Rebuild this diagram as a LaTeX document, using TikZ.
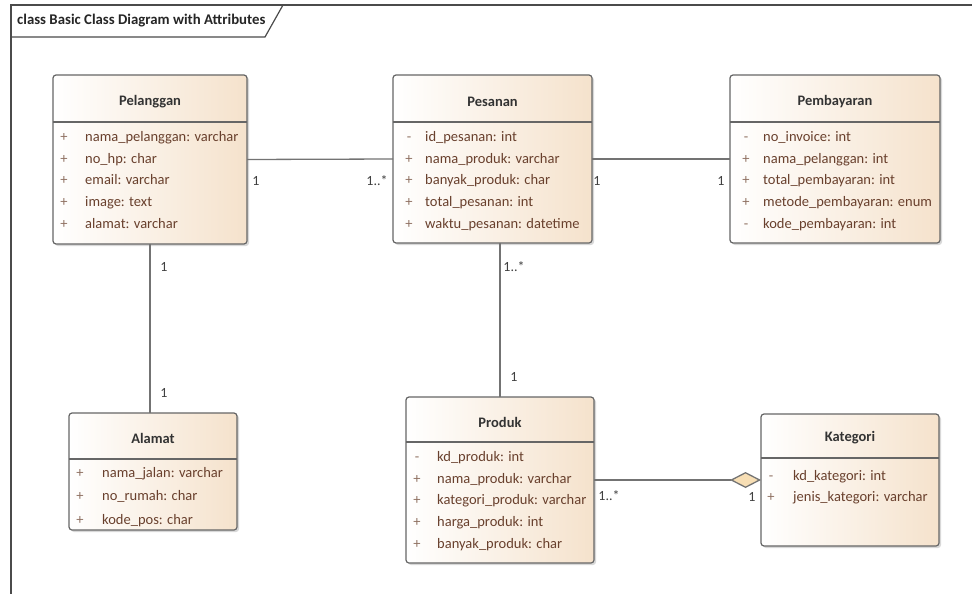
\documentclass[tikz,border=0pt]{standalone}
\usepackage{fontspec}
\setmainfont{Carlito}
\usetikzlibrary{calc,shadows,arrows.meta}
\definecolor{classtan}{RGB}{245,226,204}
\definecolor{attrbrown}{RGB}{105,64,45}
\definecolor{framegray}{RGB}{75,75,75}
\definecolor{linegray}{RGB}{115,115,115}
\definecolor{diamondtan}{RGB}{247,222,180}

\begin{document}
\begin{tikzpicture}[x=1pt,y=-1pt,
  classbox/.style={draw=framegray!85, line width=1.2pt, rounded corners=3pt,
    left color=white, right color=classtan,
    drop shadow={shadow xshift=2pt,shadow yshift=-2pt,fill=black!30},
    inner sep=0pt, outer sep=0pt},
  classtitle/.style={font=\bfseries\fontsize{14.5}{17}\selectfont, text=black!80},
  attr/.style={anchor=west, inner sep=0pt, text height=10pt, text depth=3pt,
    font=\fontsize{14.5}{17}\selectfont, text=attrbrown},
  vis/.style={inner sep=0pt, text height=10pt, text depth=3pt,
    font=\fontsize{14.5}{17}\selectfont, text=attrbrown!75},
  mult/.style={inner sep=0pt, font=\fontsize{14}{16}\selectfont, text=black!75},
  assoc/.style={draw=linegray, line width=1.3pt},
  divider/.style={draw=framegray!85, line width=1.2pt}]
  \useasboundingbox[fill=white] (0,0) rectangle (972,594);

  % frame
  \draw[framegray, line width=1.5pt] (972,5) -- (11,5) -- (11,594);
  \draw[framegray, line width=1.2pt] (11,37) -- (265,37) -- (283,5);
  \node[anchor=west, inner sep=0pt, font=\bfseries\fontsize{14.8}{17}\selectfont, text=black!85]
    (frametitle) at (17,21) {class Basic Class Diagram with Attributes};

  % classes
  \node[classbox, minimum width=194pt, minimum height=169pt] (pel) at (150,159.5) {};
  \node[classbox, minimum width=199pt, minimum height=168pt] (pes) at (492.5,159) {};
  \node[classbox, minimum width=210pt, minimum height=168pt] (pem) at (835,159) {};
  \node[classbox, minimum width=168pt, minimum height=117pt] (ala) at (153,471.5) {};
  \node[classbox, minimum width=188pt, minimum height=166pt] (pro) at (500,480) {};
  \node[classbox, minimum width=178pt, minimum height=132pt] (kat) at (850,480) {};

  \node[classtitle] (pel-t) at ($(pel.north)+(0,27)$) {Pelanggan};
  \node[classtitle] (pes-t) at ($(pes.north)+(0,27)$) {Pesanan};
  \node[classtitle] (pem-t) at ($(pem.north)+(0,27)$) {Pembayaran};
  \node[classtitle] (ala-t) at ($(ala.north)+(0,25)$) {Alamat};
  \node[classtitle] (pro-t) at ($(pro.north)+(0,25)$) {Produk};
  \node[classtitle] (kat-t) at ($(kat.north)+(0,24)$) {Kategori};

  \draw[divider] ($(pel.north west)+(0,47)$) -- ($(pel.north east)+(0,47)$);
  \draw[divider] ($(pes.north west)+(0,47)$) -- ($(pes.north east)+(0,47)$);
  \draw[divider] ($(pem.north west)+(0,47)$) -- ($(pem.north east)+(0,47)$);
  \draw[divider] ($(ala.north west)+(0,46)$) -- ($(ala.north east)+(0,46)$);
  \draw[divider] ($(pro.north west)+(0,45)$) -- ($(pro.north east)+(0,45)$);
  \draw[divider] ($(kat.north west)+(0,44)$) -- ($(kat.north east)+(0,44)$);

  % attributes
  \foreach \v/\a [count=\i] in {+/nama\_pelanggan: varchar, +/no\_hp: char,
      +/email: varchar, +/image: text, +/alamat: varchar} {
    \node[vis] (pel-v\i) at ($(pel.north west)+(11,63+21.7*\i-21.7)$) {\v};
    \node[attr] (pel-a\i) at ($(pel.north west)+(32,63+21.7*\i-21.7)$) {\a};
  }
  \foreach \v/\a [count=\i] in {-/id\_pesanan: int, +/nama\_produk: varchar,
      +/banyak\_produk: char, +/total\_pesanan: int, +/waktu\_pesanan: datetime} {
    \node[vis] (pes-v\i) at ($(pes.north west)+(16,63+21.7*\i-21.7)$) {\v};
    \node[attr] (pes-a\i) at ($(pes.north west)+(32,63+21.7*\i-21.7)$) {\a};
  }
  \foreach \v/\a [count=\i] in {-/no\_invoice: int, +/nama\_pelanggan: int,
      +/total\_pembayaran: int, +/metode\_pembayaran: enum, -/kode\_pembayaran: int} {
    \node[vis] (pem-v\i) at ($(pem.north west)+(16,63+21.7*\i-21.7)$) {\v};
    \node[attr] (pem-a\i) at ($(pem.north west)+(33,63+21.7*\i-21.7)$) {\a};
  }
  \foreach \v/\a [count=\i] in {+/nama\_jalan: varchar, +/no\_rumah: char,
      +/kode\_pos: char} {
    \node[vis] (ala-v\i) at ($(ala.north west)+(11,61+23.3*\i-23.3)$) {\v};
    \node[attr] (ala-a\i) at ($(ala.north west)+(33,61+23.3*\i-23.3)$) {\a};
  }
  \foreach \v/\a [count=\i] in {-/kd\_produk: int, +/nama\_produk: varchar,
      +/kategori\_produk: varchar, +/harga\_produk: int, +/banyak\_produk: char} {
    \node[vis] (pro-v\i) at ($(pro.north west)+(11,61+21.7*\i-21.7)$) {\v};
    \node[attr] (pro-a\i) at ($(pro.north west)+(31,61+21.7*\i-21.7)$) {\a};
  }
  \foreach \v/\a [count=\i] in {-/kd\_kategori: int, +/jenis\_kategori: varchar} {
    \node[vis] (kat-v\i) at ($(kat.north west)+(10,63+21*\i-21)$) {\v};
    \node[attr] (kat-a\i) at ($(kat.north west)+(32,63+21*\i-21)$) {\a};
  }

  % associations
  \draw[assoc] (pel.east) -- (pes.west);
  \draw[assoc] (pes.east) -- (pem.west);
  \draw[assoc] (pel.south) -- (pel.south |- ala.north);
  \draw[assoc] (pro.north) -- (pro.north |- pes.south);
  \draw[assoc, -{Diamond[length=31pt,width=16pt,fill=diamondtan]}] (pro.east) -- (kat.west);

  % multiplicities
  \node[mult] (m-pel-pes) at (256,181) {1};
  \node[mult] (m-pes-pel) at (377,181) {1..*};
  \node[mult] (m-pes-pem) at (597,181) {1};
  \node[mult] (m-pem-pes) at (721,181) {1};
  \node[mult] (m-pel-ala) at (164,267) {1};
  \node[mult] (m-ala-pel) at (164,393) {1};
  \node[mult] (m-pes-pro) at (514,267) {1..*};
  \node[mult] (m-pro-pes) at (514,377) {1};
  \node[mult] (m-pro-kat) at (609,496) {1..*};
  \node[mult] (m-kat-pro) at (752,497) {1};
\end{tikzpicture}
\end{document}
